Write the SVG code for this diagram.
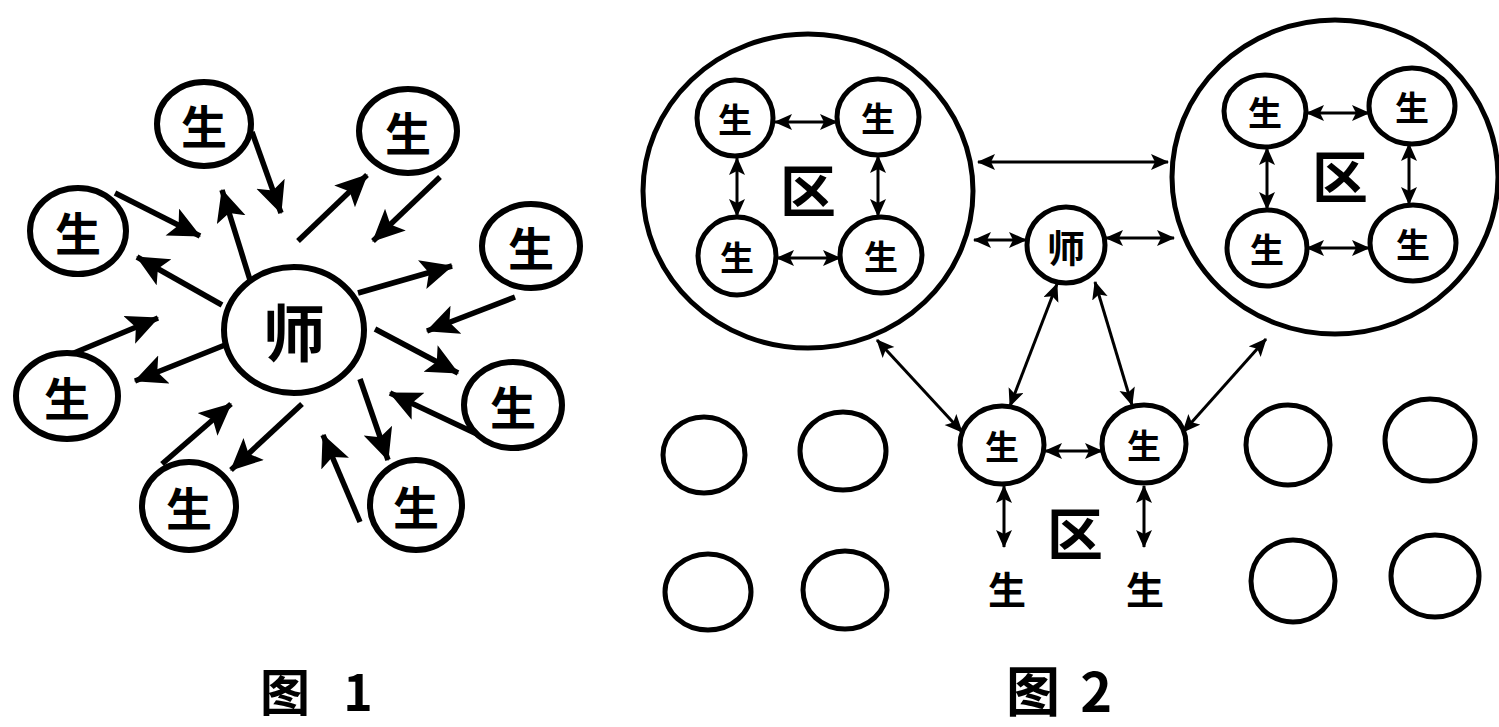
<svg xmlns="http://www.w3.org/2000/svg" width="1499" height="727" viewBox="0 0 1499 727">
<style>
  .node { fill: #fff; stroke: #000; }
  .f1 { stroke-width: 6; }
  .f2 { stroke-width: 5; }
  .big { stroke-width: 5; fill: none; }
  .t { font-family: "Noto Sans CJK SC", "Noto Sans", sans-serif; font-weight: bold; fill: #000; text-anchor: middle; dominant-baseline: central; }
  .lbl { font-family: "Noto Sans CJK SC", "Liberation Sans", sans-serif; font-weight: bold; fill: #000; }
  .a1 { stroke: #000; stroke-width: 5.5; fill: none; marker-end: url(#h1); }
  .a2 { stroke: #000; stroke-width: 3; fill: none; marker-end: url(#h2); marker-start: url(#h2); }
</style>
<defs>
  <marker id="h1" markerUnits="userSpaceOnUse" markerWidth="34" markerHeight="32" refX="31" refY="15" orient="auto">
    <path d="M0,0 L32,15 L0,30 L7,15 Z" fill="#000"/>
  </marker>
  <marker id="h2" markerUnits="userSpaceOnUse" markerWidth="20" markerHeight="18" refX="17" refY="8" orient="auto-start-reverse">
    <path d="M0,0 L18,8 L0,16 L4,8 Z" fill="#000"/>
  </marker>
</defs>
<rect width="1499" height="727" fill="#fff"/>

<!-- Figure 1 connectors -->
<g id="connectors-fig1">
  <line class="a1" x1="252" y1="132" x2="281" y2="213"/>
  <line class="a1" x1="250" y1="280" x2="222" y2="190"/>
  <line class="a1" x1="115" y1="193" x2="200" y2="236"/>
  <line class="a1" x1="222" y1="305" x2="137" y2="257"/>
  <line class="a1" x1="62" y1="358" x2="158" y2="318"/>
  <line class="a1" x1="225" y1="345" x2="135" y2="381"/>
  <line class="a1" x1="162" y1="464" x2="231" y2="404"/>
  <line class="a1" x1="302" y1="404" x2="231" y2="470"/>
  <line class="a1" x1="360" y1="522" x2="323" y2="435"/>
  <line class="a1" x1="360" y1="379" x2="388" y2="460"/>
  <line class="a1" x1="479" y1="435" x2="390" y2="393"/>
  <line class="a1" x1="375" y1="329" x2="458" y2="373"/>
  <line class="a1" x1="515" y1="297" x2="427" y2="331"/>
  <line class="a1" x1="358" y1="293" x2="452" y2="266"/>
  <line class="a1" x1="298" y1="241" x2="367" y2="175"/>
  <line class="a1" x1="440" y1="177" x2="373" y2="241"/>
</g>

<!-- Figure 1 nodes -->
<g id="f1-teacher"><ellipse class="node f1" cx="294" cy="330" rx="70" ry="63"/><text class="t" x="294" y="330" font-size="62">师</text></g>
<g id="f1-s1"><ellipse class="node f1" cx="204" cy="124" rx="47" ry="42"/><text class="t" x="204" y="124" font-size="46">生</text></g>
<g id="f1-s2"><ellipse class="node f1" cx="408" cy="131" rx="49" ry="42"/><text class="t" x="408" y="131" font-size="46">生</text></g>
<g id="f1-s3"><ellipse class="node f1" cx="78" cy="231" rx="48" ry="43"/><text class="t" x="78" y="231" font-size="46">生</text></g>
<g id="f1-s4"><ellipse class="node f1" cx="531" cy="246" rx="49" ry="42"/><text class="t" x="531" y="246" font-size="46">生</text></g>
<g id="f1-s5"><ellipse class="node f1" cx="67" cy="396" rx="51" ry="43"/><text class="t" x="67" y="396" font-size="46">生</text></g>
<g id="f1-s6"><ellipse class="node f1" cx="513" cy="405" rx="49" ry="43"/><text class="t" x="513" y="405" font-size="46">生</text></g>
<g id="f1-s7"><ellipse class="node f1" cx="189" cy="506" rx="47" ry="44"/><text class="t" x="189" y="506" font-size="46">生</text></g>
<g id="f1-s8"><ellipse class="node f1" cx="416" cy="505" rx="46" ry="45"/><text class="t" x="416" y="505" font-size="46">生</text></g>
<text class="lbl" x="260" y="711" font-size="50" word-spacing="22">图 1</text>

<!-- Figure 2 groups (big circles) -->
<g id="f2-groupL"><ellipse class="node big" cx="808" cy="191" rx="165" ry="157"/><text class="t" x="808" y="187" font-size="56">区</text></g>
<g id="f2-groupR"><ellipse class="node big" cx="1335" cy="177" rx="163" ry="157"/><text class="t" x="1340" y="173" font-size="56">区</text></g>

<!-- Figure 2 connectors -->
<g id="connectors-fig2">
  <line class="a2" x1="775" y1="122" x2="837" y2="122"/>
  <line class="a2" x1="777" y1="258" x2="840" y2="258"/>
  <line class="a2" x1="737" y1="158" x2="737" y2="216"/>
  <line class="a2" x1="878" y1="156" x2="878" y2="216"/>
  <line class="a2" x1="1307" y1="113" x2="1369" y2="113"/>
  <line class="a2" x1="1307" y1="248" x2="1369" y2="248"/>
  <line class="a2" x1="1267" y1="148" x2="1267" y2="209"/>
  <line class="a2" x1="1409" y1="144" x2="1409" y2="204"/>
  <line class="a2" x1="978" y1="162" x2="1168" y2="162"/>
  <line class="a2" x1="974" y1="240" x2="1026" y2="240"/>
  <line class="a2" x1="1106" y1="238" x2="1174" y2="238"/>
  <line class="a2" x1="877" y1="340" x2="962" y2="432"/>
  <line class="a2" x1="1057" y1="284" x2="1010" y2="406"/>
  <line class="a2" x1="1095" y1="282" x2="1132" y2="405"/>
  <line class="a2" x1="1183" y1="432" x2="1266" y2="339"/>
  <line class="a2" x1="1045" y1="451" x2="1102" y2="451"/>
  <line class="a2" x1="1004" y1="486" x2="1004" y2="547"/>
  <line class="a2" x1="1144" y1="486" x2="1144" y2="547"/>
</g>

<!-- Figure 2 nodes -->
<g id="f2-l1"><ellipse class="node f2" cx="735" cy="118" rx="38" ry="38"/><text class="t" x="735" y="118" font-size="34">生</text></g>
<g id="f2-l2"><ellipse class="node f2" cx="878" cy="117" rx="41" ry="38"/><text class="t" x="878" y="117" font-size="34">生</text></g>
<g id="f2-l3"><ellipse class="node f2" cx="737" cy="256" rx="39" ry="39"/><text class="t" x="737" y="256" font-size="34">生</text></g>
<g id="f2-l4"><ellipse class="node f2" cx="881" cy="255" rx="41" ry="38"/><text class="t" x="881" y="255" font-size="34">生</text></g>
<g id="f2-r1"><ellipse class="node f2" cx="1265" cy="111" rx="41" ry="36"/><text class="t" x="1265" y="111" font-size="34">生</text></g>
<g id="f2-r2"><ellipse class="node f2" cx="1412" cy="106" rx="43" ry="38"/><text class="t" x="1412" y="106" font-size="34">生</text></g>
<g id="f2-r3"><ellipse class="node f2" cx="1267" cy="248" rx="40" ry="38"/><text class="t" x="1267" y="248" font-size="34">生</text></g>
<g id="f2-r4"><ellipse class="node f2" cx="1413" cy="243" rx="43" ry="38"/><text class="t" x="1413" y="243" font-size="34">生</text></g>
<g id="f2-teacher"><ellipse class="node f2" cx="1066" cy="245" rx="39" ry="38"/><text class="t" x="1066" y="245" font-size="38">师</text></g>
<g id="f2-b1"><ellipse class="node f2" cx="1002" cy="445" rx="42" ry="39"/><text class="t" x="1002" y="445" font-size="34">生</text></g>
<g id="f2-b2"><ellipse class="node f2" cx="1144" cy="444" rx="42" ry="39"/><text class="t" x="1144" y="444" font-size="34">生</text></g>
<g id="f2-e1"><ellipse class="node f2" cx="704" cy="455" rx="41" ry="38"/></g>
<g id="f2-e2"><ellipse class="node f2" cx="843" cy="451" rx="43" ry="39"/></g>
<g id="f2-e3"><ellipse class="node f2" cx="708" cy="592" rx="43" ry="38"/></g>
<g id="f2-e4"><ellipse class="node f2" cx="845" cy="590" rx="42" ry="39"/></g>
<g id="f2-e5"><ellipse class="node f2" cx="1288" cy="445" rx="42" ry="40"/></g>
<g id="f2-e6"><ellipse class="node f2" cx="1430" cy="440" rx="45" ry="41"/></g>
<g id="f2-e7"><ellipse class="node f2" cx="1293" cy="581" rx="42" ry="41"/></g>
<g id="f2-e8"><ellipse class="node f2" cx="1435" cy="576" rx="44" ry="41"/></g>
<text class="t" x="1007" y="587" font-size="38">生</text>
<text class="t" x="1145" y="587" font-size="38">生</text>
<text class="t" x="1075" y="530" font-size="56">区</text>
<text class="lbl" x="1006" y="712" font-size="54" word-spacing="8">图 2</text>
</svg>
